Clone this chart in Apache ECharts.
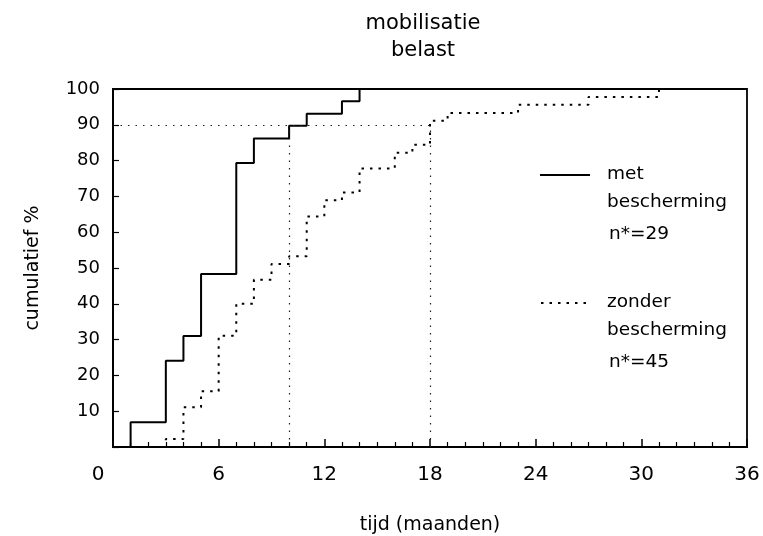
<!DOCTYPE html>
<html>
<head>
<meta charset="utf-8">
<script src="https://cdn.jsdelivr.net/npm/echarts@6/dist/echarts.min.js"></script>
<style>
  html, body { margin: 0; padding: 0; background: #fff; }
  #chart { width: 763px; height: 536px; }
</style>
</head>
<body>
<div id="chart"></div>
<script>
// Cumulative percentage mobilised over time (months), two groups
const metMonths    = [0, 1, 3, 4, 5, 7, 8, 10, 11, 13, 14, 36];
const metPct       = [0, 6.9, 24.1, 31.0, 48.3, 79.3, 86.2, 89.7, 93.1, 96.6, 100, 100];
const zonderMonths = [0, 3, 4, 5, 6, 7, 8, 9, 10, 11, 12, 13, 14, 16, 17, 18, 19, 23, 27, 31];
const zonderPct    = [0, 2.2, 11.1, 15.6, 31.1, 40.0, 46.7, 51.1, 53.3, 64.4, 68.9, 71.1, 77.8, 82.2, 84.4, 91.1, 93.3, 95.6, 97.8, 100];

// Reference: 90 % level and the months where each group reaches it
const refLevel  = 90;
const refMonths = [10, 18];

const xTicks = [0, 6, 12, 18, 24, 30, 36];
const yTicks = [10, 20, 30, 40, 50, 60, 70, 80, 90, 100];

const FONT = 'DejaVu Sans';

const pairs = (xs, ys) => xs.map((x, i) => [x, ys[i]]);

const refLines = [
  [{ coord: [0, refLevel] }, { coord: [Math.max(...refMonths), refLevel] }],
  ...refMonths.map(m => [{ coord: [m, 0] }, { coord: [m, refLevel] }])
];

const chart = echarts.init(document.getElementById('chart'), null, { renderer: 'canvas' });

chart.setOption({
  animation: false,
  backgroundColor: '#fff',
  title: {
    text: 'mobilisatie\nbelast',
    left: 418,
    textAlign: 'center',
    top: 5,
    textStyle: { fontFamily: FONT, fontSize: 21, fontWeight: 'normal', color: '#000', lineHeight: 27 }
  },
  grid: {
    left: 113, right: 16, top: 89, bottom: 89,
    outerBoundsMode: 'none',
    containLabel: false,
    show: true, borderColor: '#000', borderWidth: 1.8, backgroundColor: 'transparent'
  },
  xAxis: {
    type: 'value',
    min: 0, max: 36, interval: 6,
    name: 'tijd (maanden)',
    nameLocation: 'middle',
    nameGap: 69,
    nameTextStyle: { fontFamily: FONT, fontSize: 19, color: '#000' },
    axisLine: { show: true, onZero: false, lineStyle: { color: '#000', width: 2 } },
    axisTick: { show: true, inside: true, length: 8, lineStyle: { color: '#000', width: 1.5 } },
    minorTick: { show: true, splitNumber: 6, length: 5, lineStyle: { color: '#000', width: 1.2 } },
    splitLine: { show: false },
    axisLabel: {
      margin: 18,
      fontFamily: FONT, fontSize: 20, color: '#000',
      customValues: xTicks,
      formatter: v => (v === 0 ? '{z|0}' : String(v)),
      rich: { z: { fontFamily: FONT, fontSize: 20, color: '#000', padding: [0, 30, 0, 0] } }
    }
  },
  yAxis: {
    type: 'value',
    min: 0, max: 100, interval: 10,
    name: 'cumulatief %',
    nameLocation: 'middle',
    nameGap: 70,
    nameRotate: 90,
    nameTextStyle: { fontFamily: FONT, fontSize: 19, color: '#000' },
    axisLine: { show: true, onZero: false, lineStyle: { color: '#000', width: 2 } },
    axisTick: { show: true, inside: true, length: 6, lineStyle: { color: '#000', width: 1.2 } },
    splitLine: { show: false },
    axisLabel: {
      margin: 13,
      fontFamily: FONT, fontSize: 18, color: '#000',
      formatter: v => (yTicks.includes(v) ? String(v) : '')
    }
  },
  series: [
    {
      name: 'met bescherming',
      type: 'line',
      step: 'end',
      data: pairs(metMonths, metPct),
      showSymbol: false,
      lineStyle: { color: '#000', width: 2 },
      z: 3
    },
    {
      name: 'zonder bescherming',
      type: 'line',
      step: 'end',
      data: pairs(zonderMonths, zonderPct),
      showSymbol: false,
      lineStyle: { color: '#000', width: 2, type: [2.5, 6] },
      z: 3,
      markLine: {
        silent: true,
        symbol: 'none',
        label: { show: false },
        lineStyle: { color: '#222', width: 1.2, type: [1.5, 6] },
        data: refLines
      }
    }
  ],
  graphic: [
    { type: 'line', shape: { x1: 540, y1: 175, x2: 590, y2: 175 }, style: { stroke: '#000', lineWidth: 2 } },
    { type: 'text', left: 607, top: 165, style: { text: 'met', font: '18.5px "DejaVu Sans"', fill: '#000' } },
    { type: 'text', left: 607, top: 193, style: { text: 'bescherming', font: '18.5px "DejaVu Sans"', fill: '#000' } },
    { type: 'text', left: 609, top: 225, style: { text: 'n*=29', font: '18.5px "DejaVu Sans"', fill: '#000' } },
    { type: 'line', shape: { x1: 541, y1: 303, x2: 590, y2: 303 }, style: { stroke: '#000', lineWidth: 2, lineDash: [2.5, 6] } },
    { type: 'text', left: 607, top: 293, style: { text: 'zonder', font: '18.5px "DejaVu Sans"', fill: '#000' } },
    { type: 'text', left: 607, top: 321, style: { text: 'bescherming', font: '18.5px "DejaVu Sans"', fill: '#000' } },
    { type: 'text', left: 609, top: 353, style: { text: 'n*=45', font: '18.5px "DejaVu Sans"', fill: '#000' } }
  ]
});
</script>
</body>
</html>
